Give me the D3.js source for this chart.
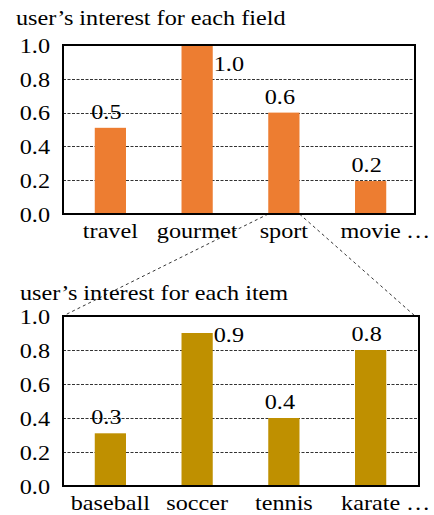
<!DOCTYPE html>
<html>
<head>
<meta charset="utf-8">
<script src="https://cdn.jsdelivr.net/npm/d3@7"></script>
<style>
    body { margin: 0; background: #fff; }
    text { font-family: "Liberation Serif", "Times New Roman", serif; fill: #000; }
</style>
</head>
<body>
<script>
// data for both panels
var fields = ["travel", "gourmet", "sport", "movie"];
var fieldValues = [0.51, 1.0, 0.6, 0.195];
var fieldLabels = ["0.5", "1.0", "0.6", "0.2"];

var items = ["baseball", "soccer", "tennis", "karate"];
var itemValues = [0.31, 0.9, 0.4, 0.8];
var itemLabels = ["0.3", "0.9", "0.4", "0.8"];

var yTicks = [0, 0.2, 0.4, 0.6, 0.8, 1.0];
var gridTicks = [0.2, 0.4, 0.6, 0.8];

window.onload = function () {

    var w = 434, h = 515;
    var sx = 1.1; // text looks horizontally stretched in the reference
    var fontSize = 22;

    var svg = d3.select("body")
        .append("svg")
        .attr("width", w)
        .attr("height", h);

    function addText(g, x, y, str, anchor) {
        return g.append("text")
            .attr("transform", "translate(" + x + "," + y + ") scale(" + sx + ",1)")
            .attr("text-anchor", anchor || "start")
            .attr("font-family", "Liberation Serif")
            .style("font-size", fontSize + "px")
            .text(str);
    }

    function panel(opt) {
        var g = svg.append("g");

        var x = d3.scaleBand()
            .domain(opt.cats)
            .range([67, 414])
            .paddingInner(0.64)
            .paddingOuter(0.32);

        var y = d3.scaleLinear()
            .domain([0, 1])
            .range([opt.bottom, opt.top]);

        addText(g, opt.titleX, opt.titleY, opt.title);

        // dashed grid behind the bars
        g.selectAll(".grid")
            .data(gridTicks)
            .enter()
            .append("line")
            .attr("class", "grid")
            .attr("x1", opt.left)
            .attr("x2", opt.right)
            .attr("y1", function (d) { return Math.round(y(d)) + 0.5; })
            .attr("y2", function (d) { return Math.round(y(d)) + 0.5; })
            .style("stroke", "#333")
            .style("stroke-width", 1)
            .style("stroke-dasharray", "3,1.5");

        g.selectAll(".bar")
            .data(opt.values)
            .enter()
            .append("rect")
            .attr("class", "bar")
            .attr("x", function (d, i) { return x(opt.cats[i]); })
            .attr("width", x.bandwidth())
            .attr("y", function (d) { return y(d); })
            .attr("height", function (d) { return y(0) - y(d); })
            .style("fill", opt.color);

        // frame
        g.append("rect")
            .attr("x", opt.left)
            .attr("y", opt.top)
            .attr("width", opt.right - opt.left)
            .attr("height", opt.bottom - opt.top)
            .style("fill", "none")
            .style("stroke", "#000")
            .style("stroke-width", 2);

        // y tick labels
        yTicks.forEach(function (t) {
            addText(g, 50, y(t), d3.format(".1f")(t), "end")
                .attr("dy", "0.35em");
        });

        // category labels
        opt.cats.forEach(function (c) {
            addText(g, x(c) + x.bandwidth() / 2, opt.bottom + 24, c, "middle");
        });
        addText(g, 418, opt.bottom + 24, "\u2026", "middle");

        // value labels: above the bar, or beside it when the bar is tall
        opt.values.forEach(function (v, i) {
            var bx = x(opt.cats[i]);
            var top = y(v);
            if (v >= 0.85) {
                addText(g, bx + x.bandwidth() + 1, Math.max(top + 9, opt.top + 26), opt.labels[i], "start");
            } else {
                addText(g, bx + x.bandwidth() / 2 - 4, top - 9, opt.labels[i], "middle");
            }
        });

        return { g: g, x: x, y: y };
    }

    var p1 = panel({
        cats: fields, values: fieldValues, labels: fieldLabels,
        title: "user\u2019s interest for each field", titleX: 16, titleY: 25,
        left: 63, right: 415, top: 45, bottom: 214,
        color: "#ED7D31"
    });

    var p2 = panel({
        cats: items, values: itemValues, labels: itemLabels,
        title: "user\u2019s interest for each item", titleX: 20, titleY: 300,
        left: 63, right: 419, top: 316, bottom: 486,
        color: "#BF9000"
    });

    // zoom lines from the "sport" bar down to the item panel
    var sx0 = p1.x("sport"), sx1 = sx0 + p1.x.bandwidth();
    var zoomLines = [
        [sx0, p1.y(0), 63, p2.y(1)],
        [sx1, p1.y(0), 415, p2.y(1)]
    ];
    svg.selectAll(".zoomline")
        .data(zoomLines)
        .enter()
        .append("line")
        .attr("class", "zoomline")
        .attr("x1", function (d) { return d[0]; })
        .attr("y1", function (d) { return d[1]; })
        .attr("x2", function (d) { return d[2]; })
        .attr("y2", function (d) { return d[3]; })
        .style("stroke", "#000")
        .style("stroke-width", 0.8)
        .style("stroke-dasharray", "3,3");
};
</script>
</body>
</html>
